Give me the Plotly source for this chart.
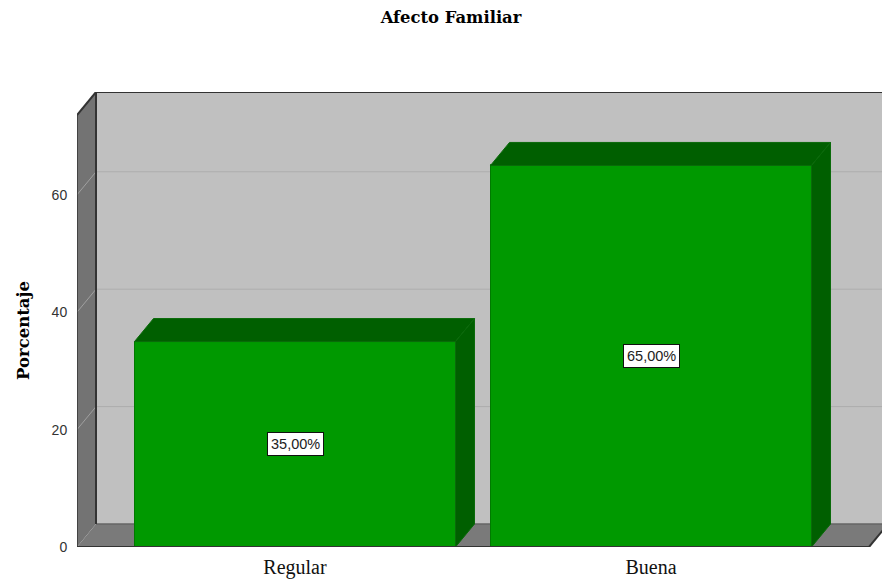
import plotly.graph_objects as go

categories = ["Regular", "Buena"]
values = [35, 65]
value_labels = ["35,00%", "65,00%"]
y_ticks = [0, 20, 40, 60]

# scale / perspective settings
PX_X = 356.0      # pixels per category step
PX_Y = 5.87       # pixels per percent
LEFT, RIGHT, TOP, BOTTOM = 77, 882, 92, 547
DX = 19 / PX_X    # depth offset in x units
DY = 23 / PX_Y    # depth offset in y units
BAR_W = 321 / PX_X
x0 = -(295 - LEFT) / PX_X
x1 = (RIGHT - 295) / PX_X
y1 = (BOTTOM - TOP) / PX_Y
front_top = y1 - DY
front_right = (869 - 295) / PX_X

FRONT, DARK = "#009900", "#005f00"
EDGE = "#333333"
SERIF = "Liberation Serif, Times New Roman, serif"
WIDE_SERIF = "DejaVu Serif, serif"
SANS = "Liberation Sans, Arial, sans-serif"

def path(pts):
    return "M" + " L".join(f"{a:.5f},{b:.5f}" for a, b in pts) + " Z"

def poly(pts, fill, line=None, w=0):
    return dict(type="path", layer="below", xref="x", yref="y", path=path(pts),
                fillcolor=fill, line=dict(color=line or fill, width=w))

def seg(a, b, color, w, layer="below"):
    return dict(type="line", layer=layer, xref="x", yref="y",
                x0=a[0], y0=a[1], x1=b[0], y1=b[1], line=dict(color=color, width=w))

shapes = [
    poly([(x0 + DX, DY), (front_right + DX, DY), (front_right + DX, y1), (x0 + DX, y1)], "#c0c0c0"),
    poly([(x0, 0), (x0 + DX, DY), (x0 + DX, y1), (x0, front_top)], "#737373"),
    poly([(x0, 0), (front_right, 0), (front_right + DX, DY), (x0 + DX, DY)], "#7a7a7a"),
]
for t in y_ticks[1:]:
    shapes.append(seg((x0 + DX, t + DY), (front_right + DX, t + DY), "#adadad", 1))
    shapes.append(seg((x0, t), (x0 + DX, t + DY), "#a0a0a0", 1))
shapes += [
    seg((x0 + DX, DY), (front_right + DX, DY), "#666666", 1.5),
    seg((x0 + DX, DY), (x0 + DX, y1), EDGE, 2),
    seg((x0 + DX, y1), (front_right + DX, y1), EDGE, 2),
    seg((x0, 0), (x0, front_top), EDGE, 1.5),
    seg((x0, front_top), (x0 + DX, y1), EDGE, 2),
    seg((x0, 0), (front_right, 0), EDGE, 2, layer="above"),
    seg((front_right, 0), (front_right + DX, DY), EDGE, 2),
]

fig = go.Figure()
xs = list(range(len(categories)))
fig.add_trace(go.Bar(x=xs, y=values, width=BAR_W, marker=dict(color=FRONT, line=dict(color="#007a00", width=1)),
                     showlegend=False, hoverinfo="skip"))
for x, v in zip(xs, values):
    l, r = x - BAR_W / 2, x + BAR_W / 2
    fig.add_trace(go.Scatter(x=[l, r, r + DX, l + DX, l], y=[v, v, v + DY, v + DY, v], mode="lines",
                             fill="toself", fillcolor=DARK, line=dict(color="#0a6a0a", width=1),
                             showlegend=False, hoverinfo="skip"))
    fig.add_trace(go.Scatter(x=[r, r + DX, r + DX, r, r], y=[0, DY, v + DY, v, 0], mode="lines",
                             fill="toself", fillcolor=DARK, line=dict(color="#0a6a0a", width=1),
                             showlegend=False, hoverinfo="skip"))

annotations = [
    dict(x=x, y=v / 2, xref="x", yref="y", text=lbl, showarrow=False, bgcolor="white",
         bordercolor="#111111", borderwidth=1, borderpad=3,
         font=dict(family=SANS, size=14.5, color="#222222"))
    for x, v, lbl in zip(xs, values, value_labels)
]
annotations.append(dict(
    x=-54 / (RIGHT - LEFT), xref="paper", y=(BOTTOM - 331) / (BOTTOM - TOP), yref="paper",
    text="<b>Porcentaje</b>", textangle=-90, showarrow=False, xanchor="center", yanchor="middle",
    font=dict(family=WIDE_SERIF, size=16.5, color="black")))

fig.update_layout(
    width=882, height=582, autosize=False,
    margin=dict(l=LEFT, r=0, t=TOP, b=582 - BOTTOM, pad=0),
    paper_bgcolor="white", plot_bgcolor="white",
    title=dict(text="<b>Afecto Familiar</b>", x=451 / 882, xanchor="center", y=1 - 17 / 582, yanchor="middle",
               font=dict(family=WIDE_SERIF, size=16.4, color="black")),
    shapes=shapes, annotations=annotations, bargap=0,
    xaxis=dict(range=[x0, x1], tickmode="array", tickvals=xs, ticktext=categories, showgrid=False,
               zeroline=False, showline=False, ticks="outside", ticklen=2, tickcolor="rgba(0,0,0,0)",
               automargin=False,
               tickfont=dict(family=SERIF, size=20, color="#111111")),
    yaxis=dict(range=[0, y1], tickmode="array", tickvals=y_ticks, showgrid=False, zeroline=False,
               showline=False, ticks="outside", ticklen=6, tickcolor="rgba(0,0,0,0)",
               automargin=False,
               tickfont=dict(family=SANS, size=14, color="#333333")),
)
fig.write_html("out.html", config=dict(displayModeBar=False),
               post_script="document.body.style.margin='0';document.documentElement.style.overflow='hidden';")
